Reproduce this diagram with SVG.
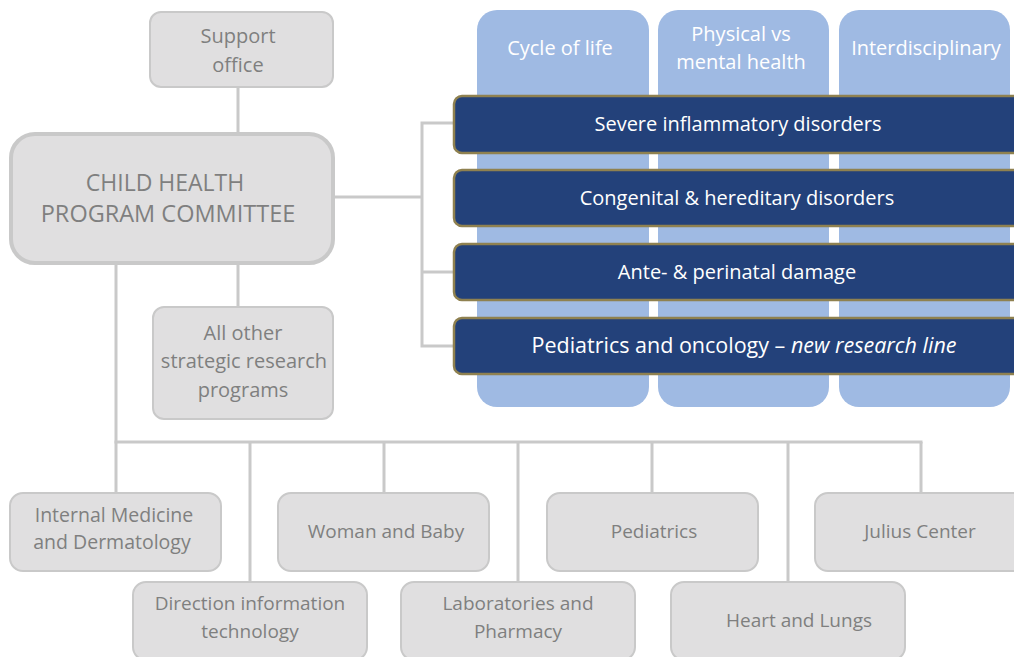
<svg xmlns="http://www.w3.org/2000/svg" width="1014" height="657" viewBox="0 0 1014 657">
<style>
text{font-family:"Open Sans","Noto Sans","Liberation Sans",sans-serif;text-anchor:middle}
.gbox{fill:#e0dfe0;stroke:#c9c9c9;stroke-width:2}
.gt{fill:#7f7f7f;font-size:19px}
.col{fill:#9fbae3}
.ct{fill:#ffffff;font-size:20px}
.bar{fill:#23417a;stroke:#8f8150;stroke-width:2.5}
.bt{fill:#ffffff;font-size:20px}
.conn{fill:none;stroke:#c9c9c9;stroke-width:3}
</style>
<rect width="1014" height="657" fill="#ffffff"/>
<g id="connectors" class="conn">
<line x1="238" y1="87" x2="238" y2="133"/>
<line x1="238" y1="263" x2="238" y2="307"/>
<polyline points="334,197 422,197"/>
<polyline points="455,123 422,123 422,346 455,346"/>
<line x1="422" y1="272" x2="455" y2="272"/>
<line x1="116" y1="263" x2="116" y2="442"/>
<line x1="114.5" y1="442" x2="922.5" y2="442"/>
<line x1="116" y1="442" x2="116" y2="493"/>
<line x1="250" y1="442" x2="250" y2="582"/>
<line x1="384" y1="442" x2="384" y2="493"/>
<line x1="518" y1="442" x2="518" y2="582"/>
<line x1="652" y1="442" x2="652" y2="493"/>
<line x1="788" y1="442" x2="788" y2="582"/>
<line x1="921" y1="442" x2="921" y2="493"/>
</g>
<g id="support-office">
<rect class="gbox" x="150" y="12" width="183" height="75" rx="11"/>
<text class="gt" x="238" y="43" style="font-size:20px">Support</text>
<text class="gt" x="238" y="72" style="font-size:20px">office</text>
</g>
<g id="committee">
<rect x="11" y="134" width="322" height="129" rx="24" fill="#e0dfe0" stroke="#c9c9c9" stroke-width="4"/>
<text class="gt" x="165" y="191" style="font-size:23px">CHILD HEALTH</text>
<text class="gt" x="168" y="222" style="font-size:23.5px">PROGRAM COMMITTEE</text>
</g>
<g id="all-other">
<rect class="gbox" x="153" y="307" width="180" height="112" rx="11"/>
<text class="gt" x="243" y="340" style="font-size:20px">All other</text>
<text class="gt" x="244" y="368" style="font-size:20px">strategic research</text>
<text class="gt" x="243" y="397" style="font-size:20px">programs</text>
</g>
<g id="col-cycle">
<rect class="col" x="477" y="10" width="172" height="397" rx="20"/>
<text class="ct" x="560" y="55">Cycle of life</text>
</g>
<g id="col-physical">
<rect class="col" x="658" y="10" width="171" height="397" rx="20"/>
<text class="ct" x="741" y="41">Physical vs</text>
<text class="ct" x="741" y="69">mental health</text>
</g>
<g id="col-interdisciplinary">
<rect class="col" x="839" y="10" width="171" height="397" rx="20"/>
<text class="ct" x="926" y="55">Interdisciplinary</text>
</g>
<g id="bar-severe">
<rect class="bar" x="454" y="96" width="570" height="57" rx="8"/>
<text class="bt" x="738" y="131">Severe inflammatory disorders</text>
</g>
<g id="bar-congenital">
<rect class="bar" x="454" y="170" width="570" height="56" rx="8"/>
<text class="bt" x="737" y="205">Congenital &amp; hereditary disorders</text>
</g>
<g id="bar-ante">
<rect class="bar" x="454" y="244" width="570" height="56" rx="8"/>
<text class="bt" x="737" y="279">Ante- &amp; perinatal damage</text>
</g>
<g id="bar-oncology">
<rect class="bar" x="454" y="318" width="570" height="56" rx="8"/>
<text class="bt" x="744" y="353" style="font-size:21.5px">Pediatrics and oncology – <tspan font-style="italic">new research line</tspan></text>
</g>
<g id="internal-medicine">
<rect class="gbox" x="10" y="493" width="211" height="78" rx="13"/>
<text class="gt" x="114" y="522" style="font-size:19.5px">Internal Medicine</text>
<text class="gt" x="112" y="549" style="font-size:19.5px">and Dermatology</text>
</g>
<g id="woman-baby">
<rect class="gbox" x="278" y="493" width="211" height="78" rx="13"/>
<text class="gt" x="386" y="538">Woman and Baby</text>
</g>
<g id="pediatrics">
<rect class="gbox" x="547" y="493" width="211" height="78" rx="13"/>
<text class="gt" x="654" y="538">Pediatrics</text>
</g>
<g id="julius">
<rect class="gbox" x="815" y="493" width="211" height="78" rx="13"/>
<text class="gt" x="920" y="538">Julius Center</text>
</g>
<g id="direction-it">
<rect class="gbox" x="133" y="582" width="234" height="78" rx="13"/>
<text class="gt" x="250" y="610">Direction information</text>
<text class="gt" x="250" y="638">technology</text>
</g>
<g id="labs-pharmacy">
<rect class="gbox" x="401" y="582" width="234" height="78" rx="13"/>
<text class="gt" x="518" y="610">Laboratories and</text>
<text class="gt" x="518" y="638">Pharmacy</text>
</g>
<g id="heart-lungs">
<rect class="gbox" x="671" y="582" width="234" height="78" rx="13"/>
<text class="gt" x="799" y="627">Heart and Lungs</text>
</g>
</svg>
